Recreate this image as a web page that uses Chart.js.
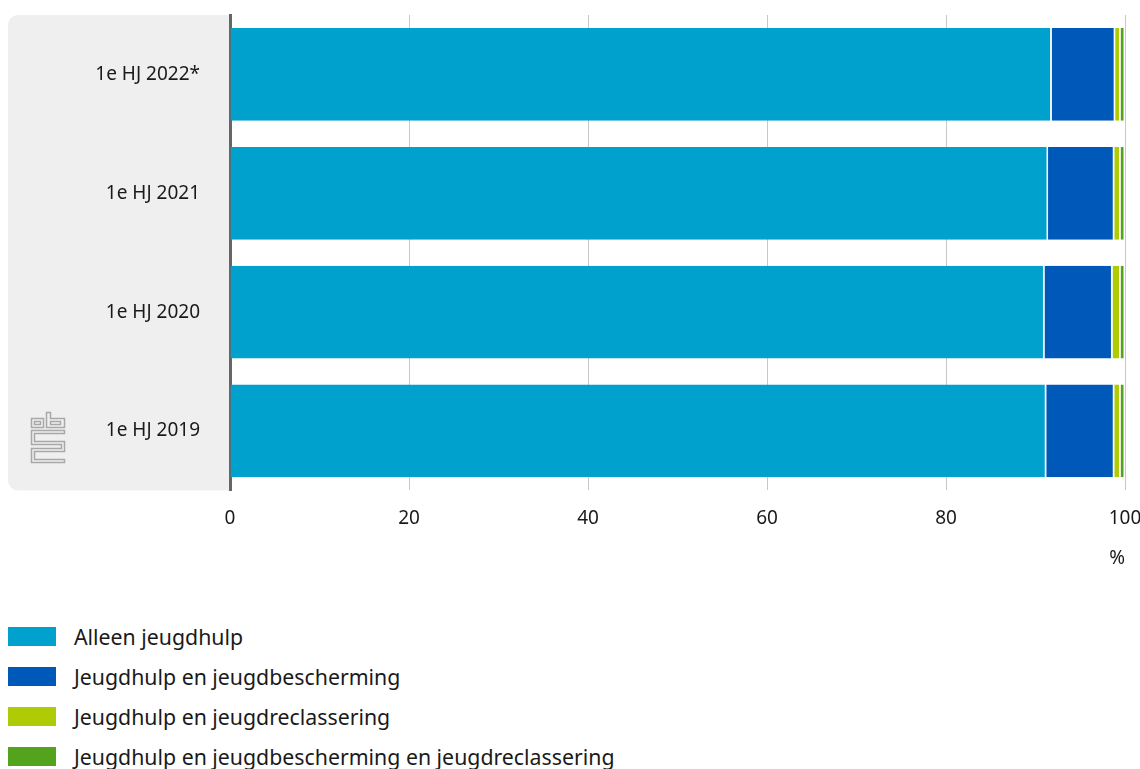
<!DOCTYPE html>
<html>
<head>
<meta charset="utf-8">
<script src="https://cdn.jsdelivr.net/npm/chart.js@4/dist/chart.umd.min.js"></script>
<style>
    body { margin: 0; background: #fff; font-family: "Noto Sans", sans-serif; }
    #wrap { position: relative; width: 1140px; height: 576px; }
    #legend { position: absolute; left: 8px; top: 616px; }
    .item { display: flex; align-items: center; height: 40px; font-size: 21.3px; color: #1a1a1a; }
    .swatch { width: 48px; height: 19px; margin-right: 18px; }
</style>
</head>
<body>
<div id="wrap"><canvas id="chart"></canvas></div>
<div id="legend"></div>
<script>
// Categories and series (percent of young people per half year)
const categories = ['1e HJ 2022*', '1e HJ 2021', '1e HJ 2020', '1e HJ 2019'];
const seriesNames = [
    'Alleen jeugdhulp',
    'Jeugdhulp en jeugdbescherming',
    'Jeugdhulp en jeugdreclassering',
    'Jeugdhulp en jeugdbescherming en jeugdreclassering'
];
const alleenJeugdhulp = [91.8, 91.4, 91.0, 91.2];
const metBescherming = [7.1, 7.4, 7.6, 7.6];
const metReclassering = [0.6, 0.7, 0.9, 0.7];
const metBeide = [0.5, 0.5, 0.5, 0.5];
const xTicks = [0, 20, 40, 60, 80, 100];
const colors = ['#00a1cd', '#0058b8', '#afcb05', '#53a31d'];

const fontFamily = '"Noto Sans", sans-serif';

// Gray panel behind the category labels plus a simple logo mark
const panelPlugin = {
    id: 'panel',
    beforeDraw(chart) {
        const ctx = chart.ctx;
        const area = chart.chartArea;
        const x0 = 8, r = 10;
        ctx.save();
        ctx.fillStyle = '#efefef';
        ctx.beginPath();
        ctx.moveTo(x0 + r, area.top);
        ctx.lineTo(area.left, area.top);
        ctx.lineTo(area.left, area.bottom);
        ctx.lineTo(x0 + r, area.bottom);
        ctx.arcTo(x0, area.bottom, x0, area.bottom - r, r);
        ctx.lineTo(x0, area.top + r);
        ctx.arcTo(x0, area.top, x0 + r, area.top, r);
        ctx.closePath();
        ctx.fill();

        // logo
        ctx.strokeStyle = '#a8a8a8';
        ctx.lineWidth = 1.5;
        const lx = 31, ly = 412;
        ctx.strokeRect(lx + 0.5, ly + 6.5, 12, 9);
        ctx.strokeRect(lx + 3.5, ly + 9.5, 6, 3);
        ctx.beginPath();
        ctx.moveTo(lx + 15.5, ly + 15.5);
        ctx.lineTo(lx + 15.5, ly + 0.5);
        ctx.lineTo(lx + 19.5, ly + 0.5);
        ctx.lineTo(lx + 19.5, ly + 6.5);
        ctx.lineTo(lx + 33.5, ly + 6.5);
        ctx.lineTo(lx + 33.5, ly + 15.5);
        ctx.closePath();
        ctx.stroke();
        ctx.strokeRect(lx + 19.5, ly + 9.5, 10, 3);
        ctx.beginPath();
        ctx.moveTo(lx + 33.5, ly + 18.5);
        ctx.lineTo(lx + 0.5, ly + 18.5);
        ctx.lineTo(lx + 0.5, ly + 32.5);
        ctx.lineTo(lx + 30.5, ly + 32.5);
        ctx.lineTo(lx + 30.5, ly + 36.5);
        ctx.lineTo(lx + 0.5, ly + 36.5);
        ctx.lineTo(lx + 0.5, ly + 50.5);
        ctx.lineTo(lx + 33.5, ly + 50.5);
        ctx.lineTo(lx + 33.5, ly + 47.5);
        ctx.lineTo(lx + 3.5, ly + 47.5);
        ctx.lineTo(lx + 3.5, ly + 39.5);
        ctx.lineTo(lx + 33.5, ly + 39.5);
        ctx.lineTo(lx + 33.5, ly + 29.5);
        ctx.lineTo(lx + 3.5, ly + 29.5);
        ctx.lineTo(lx + 3.5, ly + 21.5);
        ctx.lineTo(lx + 33.5, ly + 21.5);
        ctx.closePath();
        ctx.stroke();
        ctx.restore();
    }
};

const seriesData = [alleenJeugdhulp, metBescherming, metReclassering, metBeide];

const chart = new Chart(document.getElementById('chart'), {
    type: 'bar',
    data: {
        labels: categories,
        datasets: seriesNames.map((name, i) => ({
            label: name,
            data: seriesData[i],
            backgroundColor: colors[i],
            borderColor: '#ffffff',
            borderWidth: { left: 0, right: 1.5, top: 0, bottom: 0 },
            borderSkipped: false,
            barPercentage: 0.78,
            categoryPercentage: 1
        }))
    },
    options: {
        indexAxis: 'y',
        responsive: true,
        maintainAspectRatio: false,
        animation: false,
        layout: { padding: { top: 15, left: 8, right: 15, bottom: 6 } },
        plugins: {
            legend: { display: false },
            tooltip: { enabled: false }
        },
        scales: {
            x: {
                stacked: true,
                min: 0,
                max: 100,
                afterBuildTicks: axis => { axis.ticks = xTicks.map(v => ({ value: v })); },
                afterFit: axis => { axis.paddingLeft = 0; axis.paddingRight = 0; },
                grid: { color: '#c8c8c8', lineWidth: 1, drawTicks: false },
                border: { display: false },
                ticks: {
                    padding: 17,
                    color: '#1a1a1a',
                    font: { family: fontFamily, size: 19 }
                },
                title: {
                    display: true,
                    text: '%',
                    align: 'end',
                    color: '#1a1a1a',
                    padding: { top: 0, bottom: 0 },
                    font: { family: fontFamily, size: 19 }
                }
            },
            y: {
                stacked: true,
                afterFit: axis => {
                    axis.width = 222;
                    axis.paddingTop = 0;
                    axis.paddingBottom = 0;
                },
                grid: { display: false, drawTicks: false },
                border: { display: true, color: '#666666', width: 3 },
                ticks: {
                    padding: 30,
                    color: '#1a1a1a',
                    font: { family: fontFamily, size: 19 }
                }
            }
        }
    },
    plugins: [panelPlugin]
});

// Legend, one item per line
const legendEl = document.getElementById('legend');
seriesNames.forEach((name, i) => {
    const item = document.createElement('div');
    item.className = 'item';
    item.innerHTML = `<span class="swatch" style="background:${colors[i]}"></span>${name}`;
    legendEl.appendChild(item);
});
</script>
</body>
</html>
